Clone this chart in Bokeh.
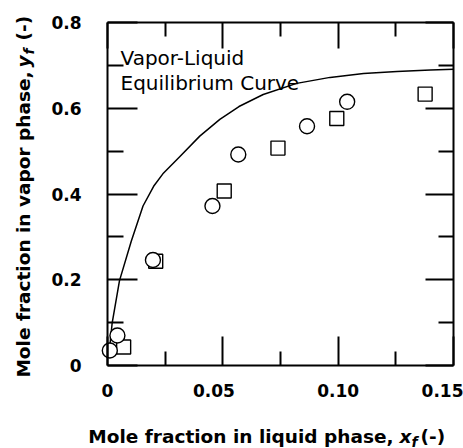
from bokeh.plotting import figure
from bokeh.models import Range1d, LinearAxis, FixedTicker, Label
from bokeh.embed import file_html
from bokeh.resources import INLINE
import math

# ---- data ----
circle_x = [0.0010, 0.0043, 0.0197, 0.0455, 0.0567, 0.0865, 0.1039]
circle_y = [0.035, 0.070, 0.246, 0.372, 0.492, 0.558, 0.615]
square_x = [0.0070, 0.0209, 0.0506, 0.0739, 0.0994, 0.1377]
square_y = [0.043, 0.243, 0.407, 0.507, 0.576, 0.633]
curve_x = [0.0010, 0.0020, 0.0052, 0.0103, 0.0154, 0.0200, 0.0240, 0.0313, 0.0400,
           0.0487, 0.0570, 0.0675, 0.0820, 0.0965, 0.1110, 0.1255, 0.1400, 0.1500]
curve_y = [0.045, 0.098, 0.198, 0.290, 0.372, 0.418, 0.447, 0.487, 0.535,
           0.574, 0.604, 0.632, 0.658, 0.672, 0.681, 0.686, 0.689, 0.691]

x_major = [0.0, 0.05, 0.10, 0.15]
x_minor = [0.025, 0.075, 0.125]
x_labels = ["0", "0.05\u00a0\u00a0\u00a0", "0.10", "0.15"]
y_major = [0.0, 0.2, 0.4, 0.6, 0.8]
y_minor = [0.1, 0.3, 0.5, 0.7]
y_labels = ["0", "0.2", "0.4", "0.6", "0.8"]

FONT = "DejaVu Sans"

# ---- layout (pixels): the plot box inside a full-canvas frame ----
W, H = 463, 448
BOX_L, BOX_R, BOX_T, BOX_B = 107, 453, 22, 365
xlo, xhi = x_major[0], x_major[-1]
ylo, yhi = y_major[0], y_major[-1]
sx = (BOX_R - BOX_L) / (xhi - xlo)
sy = (BOX_B - BOX_T) / (yhi - ylo)
x0 = xlo - BOX_L / sx
y1 = yhi + BOX_T / sy

p = figure(width=W, height=H, x_range=Range1d(x0, x0 + W / sx), y_range=Range1d(y1 - H / sy, y1),
           output_backend="svg", toolbar_location=None, min_border=0,
           x_axis_location=None, y_axis_location=None)
p.title.visible = False
p.grid.visible = False
p.outline_line_color = None
p.background_fill_color = "white"
p.border_fill_color = "white"


def make_axis(cls_side, loc, bounds, major_in, minor_in, labels):
    ax = LinearAxis(ticker=FixedTicker(ticks=cls_side[0], minor_ticks=cls_side[1]),
                    fixed_location=loc, bounds=bounds)
    ax.major_tick_in = major_in
    ax.major_tick_out = 0
    ax.minor_tick_in = minor_in
    ax.minor_tick_out = 0
    ax.major_tick_line_width = 2
    ax.minor_tick_line_width = 2
    ax.major_tick_line_color = "black"
    ax.minor_tick_line_color = "black"
    ax.axis_line_width = 2
    ax.axis_line_color = "black"
    if labels is not None:
        ax.major_label_overrides = {v: s for v, s in zip(cls_side[0], labels)}
        ax.major_label_text_font = FONT
        ax.major_label_text_font_style = "bold"
        ax.major_label_text_font_size = "17px"
        ax.major_label_text_color = "black"
    else:
        ax.major_label_text_font_size = "1px"
        ax.major_label_text_color = None
        ax.major_label_standoff = 0
    return ax


xb = make_axis((x_major, x_minor), ylo, (xlo, xhi), 29, 14, x_labels)
xb.major_label_standoff = 15
p.add_layout(xb, "below")
yl = make_axis((y_major, y_minor), xlo, (ylo, yhi), 30, 16, y_labels)
yl.major_label_standoff = 26
p.add_layout(yl, "left")
xt = make_axis((x_major, x_minor), yhi, (xlo, xhi), 26, 14, None)
p.add_layout(xt, "above")
yr = make_axis((y_major, y_minor), xhi, (ylo, yhi), 28, 15, None)
p.add_layout(yr, "right")

# equilibrium curve and data
p.line(curve_x, curve_y, line_color="black", line_width=1.5)
p.scatter(square_x, square_y, marker="square", size=14, fill_color="white",
          line_color="black", line_width=1.4)
p.scatter(circle_x, circle_y, marker="circle", size=15, fill_color="white",
          line_color="black", line_width=1.4)

# texts, canvas px from the top-left corner
cv = dict(x_units="canvas", y_units="canvas", text_font=FONT, text_color="black",
          text_baseline="alphabetic")
for txt, yy in [("Vapor-Liquid", 57), ("Equilibrium Curve", 82)]:
    p.add_layout(Label(x=120, y=yy, text=txt, text_align="left", text_font_size="20px", **cv))

p.add_layout(Label(x=393, y=436, text="Mole fraction in liquid phase,", text_align="right",
                   text_font_size="18.5px", text_font_style="bold", **cv))
p.add_layout(Label(x=399, y=436, text="x", text_align="left",
                   text_font_size="18.5px", text_font_style="bold italic", **cv))
p.add_layout(Label(x=411, y=441, text="f", text_align="left",
                   text_font_size="14px", text_font_style="bold italic", **cv))
p.add_layout(Label(x=420, y=436, text="(-)", text_align="left",
                   text_font_size="18.5px", text_font_style="bold", **cv))

rot = math.pi / 2
p.add_layout(Label(x=23, y=71, angle=rot, text="Mole fraction in vapor phase,", text_align="right",
                   text_font_size="18.5px", text_font_style="bold", **cv))
p.add_layout(Label(x=23, y=67, angle=rot, text="y", text_align="left",
                   text_font_size="18.5px", text_font_style="bold italic", **cv))
p.add_layout(Label(x=28, y=54, angle=rot, text="f", text_align="left",
                   text_font_size="14px", text_font_style="bold italic", **cv))
p.add_layout(Label(x=23, y=40, angle=rot, text="(-)", text_align="left",
                   text_font_size="18.5px", text_font_style="bold", **cv))

open("out.html", "w").write(file_html(p, INLINE))
